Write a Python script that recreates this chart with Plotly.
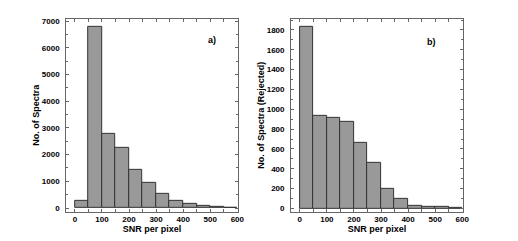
import plotly.graph_objects as go

bin_starts = [0, 50, 100, 150, 200, 250, 300, 350, 400, 450, 500, 550]
bin_width = 50
counts_all = [250, 6800, 2780, 2250, 1420, 930, 520, 270, 160, 80, 40, 5]
counts_rejected = [1830, 935, 915, 875, 660, 460, 200, 95, 30, 18, 12, 2]
x_tick_vals = [0, 100, 200, 300, 400, 500, 600]
y1_tick_vals = [0, 1000, 2000, 3000, 4000, 5000, 6000, 7000]
y2_tick_vals = [0, 200, 400, 600, 800, 1000, 1200, 1400, 1600, 1800]
panel_labels = ["a)", "b)"]
x_title = "SNR per pixel"
y_titles = ["No. of Spectra", "No. of Spectra (Rejected)"]

FONT = "Liberation Sans, Arial, sans-serif"
frame_col = "#666666"
bar_fill = "#999999"
bar_line = "#333333"

W, H = 518, 241
OFF = 8  # default page body margin shifts the figure by 8px

def px_x(v):
    return (v - OFF) / W

def px_y(v):
    return 1 - (v - OFF) / H

fig = go.Figure()
fig.add_trace(go.Bar(x=bin_starts, y=counts_all, width=bin_width, offset=0,
                     marker=dict(color=bar_fill, line=dict(color=bar_line, width=1)),
                     xaxis="x", yaxis="y", showlegend=False))
fig.add_trace(go.Bar(x=bin_starts, y=counts_rejected, width=bin_width, offset=0,
                     marker=dict(color=bar_fill, line=dict(color=bar_line, width=1)),
                     xaxis="x2", yaxis="y2", showlegend=False))

tickfont = dict(family=FONT, size=8, color="black")
titlefont = dict(family=FONT, size=9, color="black")

def xaxis(domain, anchor):
    return dict(domain=domain, anchor=anchor, range=[-32, 602],
                tickvals=x_tick_vals, ticktext=[f"<b>{v}</b>" for v in x_tick_vals],
                ticks="inside", ticklen=3, tickcolor=frame_col,
                minor=dict(dtick=50, tick0=0, ticks="inside", ticklen=3, tickcolor=frame_col),
                showline=True, linecolor=frame_col, linewidth=1, mirror="ticks",
                showgrid=False, zeroline=False, tickfont=tickfont,
                title=dict(text=f"<b>{x_title}</b>", font=titlefont, standoff=0))

def yaxis(domain, anchor, rng, vals, minor_dtick, title):
    return dict(domain=domain, anchor=anchor, range=rng,
                tickvals=vals, ticktext=[f"<b>{v}</b>" for v in vals],
                ticks="inside", ticklen=3, tickcolor=frame_col,
                minor=dict(dtick=minor_dtick, tick0=0, ticks="inside", ticklen=2, tickcolor=frame_col),
                showline=True, linecolor=frame_col, linewidth=1, mirror="ticks",
                showgrid=False, zeroline=False, tickfont=tickfont, ticklabelstandoff=4,
                title=dict(text=f"<b>{title}</b>", font=titlefont, standoff=0))

fig.update_layout(
    width=W, height=H,
    margin=dict(l=0, r=0, t=0, b=0),
    paper_bgcolor="white", plot_bgcolor="white",
    bargap=0,
    xaxis=xaxis([px_x(67), px_x(241)], "y"),
    yaxis=yaxis([px_y(213), px_y(17)], "x", [-135, 7090], y1_tick_vals, 500, y_titles[0]),
    xaxis2=xaxis([px_x(295), px_x(469)], "y2"),
    yaxis2=yaxis([px_y(213), px_y(17)], "x2", [-32, 1912], y2_tick_vals, 100, y_titles[1]),
    annotations=[
        dict(text=f"<b>{panel_labels[0]}</b>", xref="paper", yref="paper",
             x=px_x(215), y=px_y(31), showarrow=False, font=titlefont),
        dict(text=f"<b>{panel_labels[1]}</b>", xref="paper", yref="paper",
             x=px_x(444), y=px_y(33), showarrow=False, font=titlefont),
    ],
)

fig.write_html("out.html")
